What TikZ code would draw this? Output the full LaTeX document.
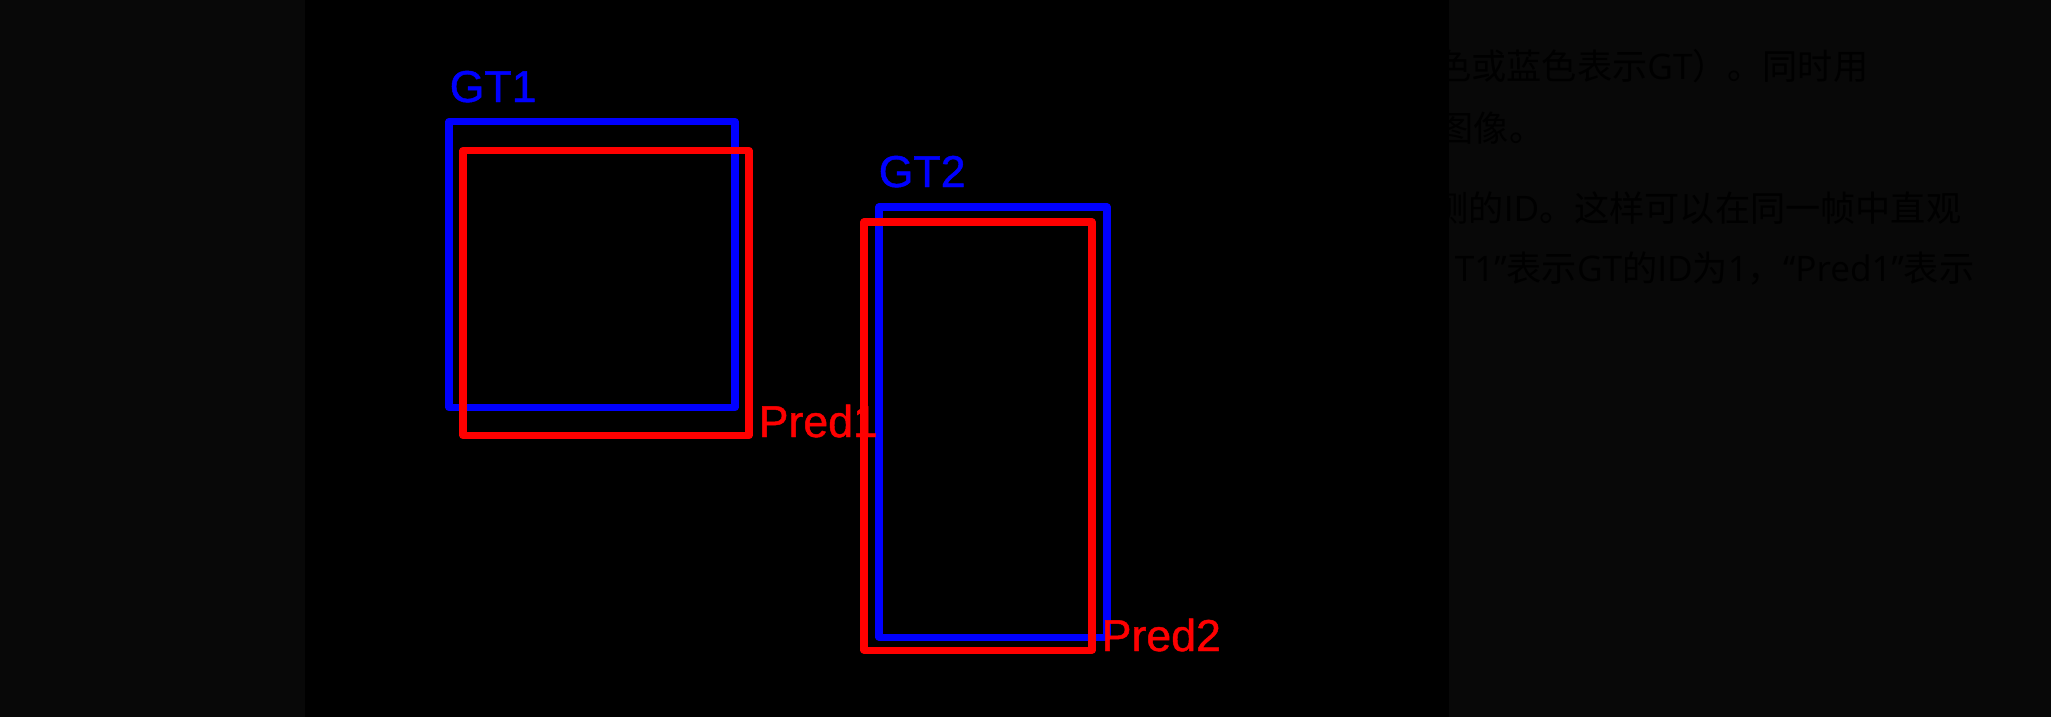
\documentclass[tikz,border=0pt]{standalone}
\usepackage{fontspec}
\setmainfont{Liberation Sans}
\newfontfamily\cjk{Noto Sans CJK SC}
\newfontfamily\latinfont{Open Sans}
\newfontfamily\labfont[FakeBold=1]{Liberation Sans}
\newcommand\lat[1]{{\latinfont #1}}
\definecolor{sidegray}{RGB}{8,8,8}
\definecolor{gtblue}{RGB}{0,0,255}
\definecolor{predred}{RGB}{255,0,0}
\tikzset{
  gtbox/.style={draw=gtblue,line width=2pt,line join=round},
  predbox/.style={draw=predred,line width=2pt,line join=round},
  boxlab/.style={inner sep=0pt,anchor=base west,font=\labfont\fontsize{12.7}{15}\selectfont},
  notetext/.style={inner sep=0pt,anchor=base east,text=black,font=\cjk\fontsize{10}{12}\selectfont}
}
\begin{document}
\begin{tikzpicture}[x=0.01cm,y=-0.01cm]
\useasboundingbox (0,0) rectangle (2051,717);
\fill[sidegray] (0,0) rectangle (2051,717);
% text behind the frame
\node[notetext] (line1) at (1869,79.5) {色或蓝色表示\lat{GT}）。同时用};
\node[notetext] (line2) at (1545,141.5) {图像。};
\node[notetext] (line3) at (1962,221.5) {测的\lat{ID}。这样可以在同一帧中直观};
\node[notetext] (line4) at (1975,281.5) {\lat{T1”}表示\lat{GT}的\lat{ID}为\lat{1}，\lat{“Pred1”}表示};
% frame
\fill[black] (305,0) rectangle (1449,717);
% boxes
\draw[gtbox] (449,121.5) rectangle (735,407.5);
\draw[predbox] (463,150.5) rectangle (749,435.5);
\draw[gtbox] (879,207) rectangle (1107,637);
\draw[predbox] (864,222) rectangle (1092,650);
% labels
\node[boxlab,text=gtblue] (gt1) at (449,102) {GT1};
\node[boxlab,text=predred] (pred1) at (758,437) {Pred1};
\node[boxlab,text=gtblue] (gt2) at (878,187) {GT2};
\node[boxlab,text=predred] (pred2) at (1101,651) {Pred2};
\end{tikzpicture}
\end{document}
